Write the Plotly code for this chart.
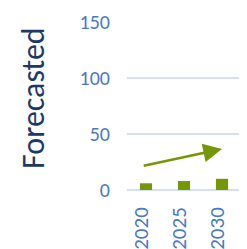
import plotly.graph_objects as go

years = ["2020", "2025", "2030"]
values = [6, 8, 10]
y_ticks = [0, 50, 100, 150]
title_text = "Forecasted"
trend_start = 21.4
trend_end = 36.6

green = "#76960A"
font_family = "Calibri, Carlito, Liberation Sans, sans-serif"
fig = go.Figure()
fig.add_trace(go.Bar(x=years, y=values, marker=dict(color=green, line=dict(width=0))))

fig.add_annotation(
    x=2, y=trend_end, xref="x", yref="y",
    ax=-0.1, ay=trend_start, axref="x", ayref="y",
    showarrow=True, arrowhead=2, arrowsize=1.5, arrowwidth=2.5,
    arrowcolor=green, text="",
)
fig.add_annotation(
    x=-0.8246, y=0.5476, xref="paper", yref="paper",
    xanchor="center", yanchor="middle",
    text=title_text, textangle=-90, showarrow=False,
    font=dict(family=font_family, size=32, color="#203864"),
)

# page body has an 8px default margin, so the figure is sized to fit the window
fig.update_layout(
    width=239, height=241,
    margin=dict(l=119, r=6, t=14, b=59, autoexpand=False),
    paper_bgcolor="white", plot_bgcolor="white",
    bargap=0.68, showlegend=False,
    font=dict(family=font_family),
)
fig.update_yaxes(
    range=[0, 150], tickvals=y_ticks, showgrid=True, gridcolor="#D6DFEF", gridwidth=1.5,
    zeroline=True, zerolinecolor="#D6DFEF", zerolinewidth=2,
    tickfont=dict(size=20, color="#4A78C2"), ticklabelstandoff=16, automargin=False,
)
fig.update_xaxes(
    tickangle=-90, tickfont=dict(size=21, color="#4A78C2"), ticklabelstandoff=12,
    ticklabelshift=-5, showgrid=False, automargin=False,
)
fig.write_html("out.html")
